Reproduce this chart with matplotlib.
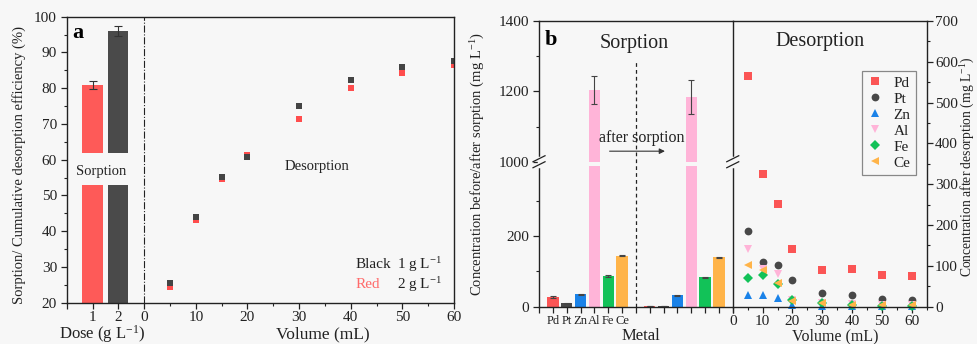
import matplotlib.pyplot as plt
import numpy as np
from matplotlib.ticker import FixedLocator, MultipleLocator, NullFormatter

plt.rcParams["font.family"] = "Liberation Serif"
plt.rcParams["mathtext.fontset"] = "custom"
plt.rcParams["mathtext.rm"] = "Liberation Serif"
plt.rcParams["mathtext.it"] = "Liberation Serif:italic"
plt.rcParams["xtick.direction"] = "out"
plt.rcParams["ytick.direction"] = "out"

BG = "#f7f7f7"
INK = "#222222"

# ---- panel a data ----
doses = ["1", "2"]
dose_sorption = [81.0, 96.0]
dose_sorption_err = [1.1, 1.3]
volumes = [5, 10, 15, 20, 30, 40, 50, 60]
desorption_1g = [25.5, 44.0, 55.2, 60.8, 75.0, 82.3, 86.0, 87.5]
desorption_2g = [24.5, 43.0, 54.5, 61.2, 71.5, 80.0, 84.2, 86.5]

# ---- panel b data ----
metals = ["Pd", "Pt", "Zn", "Al", "Fe", "Ce"]
metal_colors = ["#fb5555", "#484848", "#1a82e8", "#ffb4d8", "#12c258", "#ffb449"]
metal_markers = ["s", "o", "^", "v", "D", "<"]
before_sorption = [27, 10, 35, 1205, 87, 145]
before_err = [2, 1, 2, 40, 3, 2]
after_sorption = [2, 2, 33, 1183, 84, 140]
after_err = [0.5, 0.5, 1.5, 48, 1.5, 1.5]

pd_desorption = [566, 326, 252, 141, 91, 92, 78, 75]
pt_desorption = [185, 109, 101, 66, 34, 29, 18, 16]
zn_desorption = [28, 29, 22, 3, 1, 1, 1, 1]
al_desorption = [141, 92, 79, 16, 10, 6, 4, 3]
fe_desorption = [71, 77, 55, 16, 8, 3, 2, 1]
ce_desorption = [101, 89, 57, 15, 8, 5, 4, 4]

fig = plt.figure(figsize=(9.77, 3.44), dpi=100, facecolor=BG)


def style_axes(ax):
    ax.set_facecolor(BG)
    for sp in ax.spines.values():
        sp.set_color(INK)
        sp.set_linewidth(1.0)
    ax.tick_params(which="both", colors=INK, labelsize=11, pad=3)
    ax.tick_params(which="major", length=4, width=0.9)
    ax.tick_params(which="minor", length=2.5, width=0.8)


# ================= panel a =================
ax = fig.add_axes([0.0683, 0.120, 0.3964, 0.8314])
style_axes(ax)
ax.set_xlim(-15, 60)
ax.set_ylim(20, 100)

dose_x = np.array([-10, -5])
bar_colors_a = ["#fe5a58", "#4a4a4a"]
gap_bottom, gap_top = 53, 62
for x, v, e, c in zip(dose_x, dose_sorption, dose_sorption_err, bar_colors_a):
    ax.bar(x, gap_bottom - 20, bottom=20, width=3.9, color=c)
    ax.bar(x, v - gap_top, bottom=gap_top, width=3.9, color=c)
    ax.errorbar(x, v, yerr=e, color="#333333", capsize=3, lw=0.8, capthick=0.8)

ax.axvline(0, color=INK, lw=0.8, ls="-.")
ax.plot(volumes, desorption_2g, "s", color="#ff4d4d", ms=4.8, mew=0)
ax.plot(volumes, desorption_1g, "s", color="#444444", ms=4.8, mew=0)

ax.xaxis.set_major_locator(FixedLocator([-15, -10, -5, 0, 10, 20, 30, 40, 50, 60]))
ax.set_xticklabels(["", doses[0], doses[1], "0", "10", "20", "30", "40", "50", "60"])
ax.xaxis.set_minor_locator(FixedLocator([5, 15, 25, 35, 45, 55]))
ax.yaxis.set_major_locator(MultipleLocator(10))
ax.yaxis.set_minor_locator(MultipleLocator(5))
ax.tick_params(top=False, right=False)
ax.tick_params(axis="x", pad=2)

ax.text(-12.8, 95.5, "a", fontsize=16, fontweight="bold", ha="center", va="center", color="black")
ax.text(-8.3, 56.8, "Sorption", fontsize=10.5, ha="center", va="center", color=INK)
ax.text(33.4, 58.0, "Desorption", fontsize=10.5, ha="center", va="center", color=INK)
ax.text(41, 30.7, "Black", fontsize=11, ha="left", va="center", color=INK)
ax.text(48.9, 30.7, r"1 g L$^{\mathregular{-1}}$", fontsize=11, ha="left", va="center", color=INK)
ax.text(41, 25.0, "Red", fontsize=11, ha="left", va="center", color="#ff6b6b")
ax.text(48.9, 25.0, r"2 g L$^{\mathregular{-1}}$", fontsize=11, ha="left", va="center", color=INK)

ax.set_ylabel("Sorption/ Cumulative desorption efficiency (%)", fontsize=10.5, color=INK)
ax.yaxis.set_label_coords(-0.105, 0.48)
ax.text(-8.1, -0.11, r"Dose (g L$^{\mathregular{-1}}$)", transform=ax.get_xaxis_transform(),
        fontsize=12, ha="center", va="center", color=INK)
ax.text(34.5, -0.11, "Volume (mL)", transform=ax.get_xaxis_transform(),
        fontsize=12.5, ha="center", va="center", color=INK)

# ================= panel b (sorption bars) =================
gap_lo, gap_hi = 412, 1000


def fwd(y):
    y = np.asarray(y, float)
    return np.where(y <= gap_lo, y, np.where(y >= gap_hi, y - (gap_hi - gap_lo), gap_lo))


def inv(v):
    v = np.asarray(v, float)
    return np.where(v <= gap_lo, v, v + (gap_hi - gap_lo))


b1 = fig.add_axes([0.5517, 0.1085, 0.1983, 0.8304])
style_axes(b1)
b1.set_yscale("function", functions=(fwd, inv))
b1.set_xlim(0, 14)
b1.set_ylim(0, 1400)
b1.spines["right"].set_visible(False)

before_x = np.arange(1, 7)
after_x = np.arange(8, 14)
for xs, vals, errs in [(before_x, before_sorption, before_err), (after_x, after_sorption, after_err)]:
    for x, v, e, c in zip(xs, vals, errs, metal_colors):
        b1.bar(x, min(v, 400), width=0.82, color=c)
        if v > gap_hi:
            b1.bar(x, v - gap_hi, bottom=gap_hi, width=0.82, color=c)
        b1.errorbar(x, v, yerr=e, color="#444444", capsize=2.5, lw=0.8, capthick=0.8)

b1.plot([7, 7], [0, 1290], color=INK, lw=0.9, ls=(0, (3, 2.5)))
b1.annotate("", xy=(9.3, 1030), xytext=(4.9, 1030),
            arrowprops=dict(arrowstyle="-|>", color="#333333", lw=0.8, mutation_scale=8))
b1.text(7.45, 1067, "after sorption", fontsize=11.5, ha="center", va="center", color=INK)

b1.xaxis.set_major_locator(FixedLocator(np.arange(0, 15)))
b1.set_xticklabels([""] + metals + [""] * 8, fontsize=9)
b1.yaxis.set_major_locator(FixedLocator([0, 200, 1000, 1200, 1400]))
b1.yaxis.set_minor_locator(FixedLocator([100, 300, 1100, 1300]))
b1.yaxis.set_major_formatter(plt.FixedFormatter(["0", "200", "1000", "1200", "1400"]))
b1.yaxis.set_minor_formatter(NullFormatter())
b1.tick_params(axis="x", length=4, pad=2)

b1.text(0.062, 0.935, "b", transform=b1.transAxes, fontsize=16, fontweight="bold",
        ha="center", va="center", color="black")
b1.text(0.492, 0.92, "Sorption", transform=b1.transAxes, fontsize=14.5,
        ha="center", va="center", color=INK)
b1.text(0.525, -0.102, "Metal", transform=b1.transAxes, fontsize=12,
        ha="center", va="center", color=INK)
b1.set_ylabel(r"Concentration before/after sorption (mg L$^{\mathregular{-1}}$)", fontsize=10.5, color=INK)
b1.yaxis.set_label_coords(-0.27, 0.5)

# ================= panel b (desorption scatter) =================
b2 = fig.add_axes([0.7500, 0.1085, 0.1985, 0.8304])
style_axes(b2)
b2.set_xlim(0, 65)
b2.set_ylim(0, 700)
desorption_series = [pd_desorption, pt_desorption, zn_desorption,
                     al_desorption, fe_desorption, ce_desorption]
for name, vals, c, m in zip(metals, desorption_series, metal_colors, metal_markers):
    ms = 4.6 if m == "D" else 5.6
    b2.plot(volumes, vals, m, color=c, ms=ms, mew=0, label=name, clip_on=False)

b2.xaxis.set_major_locator(MultipleLocator(10))
b2.xaxis.set_minor_locator(MultipleLocator(5))
b2.yaxis.set_major_locator(MultipleLocator(100))
b2.yaxis.set_minor_locator(MultipleLocator(50))
b2.yaxis.tick_right()
b2.yaxis.set_label_position("right")
b2.tick_params(axis="y", which="both", left=False, right=True)
b2.tick_params(axis="y", pad=2)
b2.tick_params(axis="x", pad=2)
b2.set_ylabel(r"Concentration after desorption (mg L$^{\mathregular{-1}}$)", fontsize=9.8, color=INK)
b2.yaxis.set_label_coords(1.165, 0.49)
b2.text(0.45, 0.927, "Desorption", transform=b2.transAxes, fontsize=14.5,
        ha="center", va="center", color=INK)
b2.text(0.527, -0.105, "Volume (mL)", transform=b2.transAxes, fontsize=11.5,
        ha="center", va="center", color=INK)

leg = b2.legend(loc="upper right", bbox_to_anchor=(0.945, 0.826), borderaxespad=0,
                fontsize=11, frameon=True, fancybox=False, edgecolor="#888888",
                facecolor=BG, framealpha=1, handletextpad=0.7, labelspacing=0.15,
                borderpad=0.35, handlelength=1.0, markerfirst=True)
leg.get_frame().set_linewidth(0.9)
for t in leg.get_texts():
    t.set_color(INK)
    t.set_ha("right")
leg._legend_box.align = "right"

# ---- axis break marks ----
yb = float(fwd(1000) / fwd(1400))
px_x = 1 / (0.1983 * 977)
px_y = 1 / (0.8304 * 344)
for axis_obj in (b1, b2):
    axis_obj.plot([0, 0], [yb - 4 * px_y, yb + 4 * px_y], color=BG, lw=2.5,
                  transform=axis_obj.transAxes, clip_on=False, zorder=5)
    for dy in (-3 * px_y, 3 * px_y):
        axis_obj.plot([-6 * px_x, 6 * px_x], [yb + dy - 3 * px_y, yb + dy + 3 * px_y],
                      color=INK, lw=0.9, transform=axis_obj.transAxes, clip_on=False, zorder=6)

fig.savefig("out.png", dpi=100, facecolor=BG)
